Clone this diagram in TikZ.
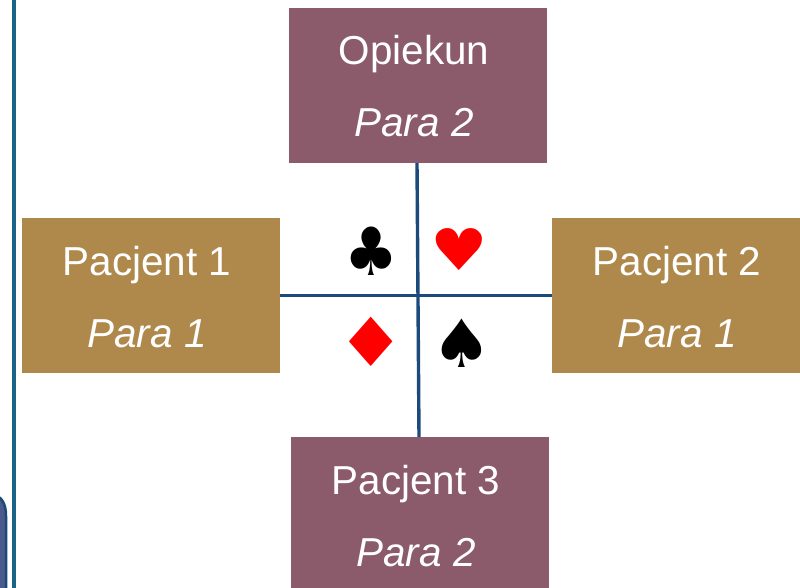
\documentclass[tikz,border=0pt]{standalone}
\usepackage{fontspec}
\setmainfont{Liberation Sans}
\newfontfamily\symfont{DejaVu Sans}
\definecolor{mauve}{HTML}{8B5A6B}
\definecolor{gold}{HTML}{AF894C}
\definecolor{linkblue}{HTML}{1D4A7C}
\definecolor{railblue}{HTML}{1B6488}
\definecolor{tabfill}{HTML}{4A5A8C}
\definecolor{tabedge}{HTML}{1C4A78}
\tikzset{
  card/.style={rectangle,inner sep=0pt,outer sep=0pt,text=white,align=center,anchor=north west,minimum height=155pt,minimum width=258pt,font=\fontsize{40.4}{72}\selectfont},
  link/.style={draw=linkblue,line width=3.4pt},
  suit/.style={inner sep=0pt,transform shape,font=\symfont\fontsize{60}{60}\selectfont},
}
\newcommand{\cardtext}[2]{\hspace*{-8pt}\raisebox{-5.5pt}[30pt][10pt]{#1}\\\hspace*{-8pt}\raisebox{-5.5pt}[30pt][10pt]{\textit{#2}}}
\begin{document}
\begin{tikzpicture}[x=1pt,y=-1pt]
\useasboundingbox (0,0) rectangle (800,588);
\fill[white] (0,0) rectangle (800,588);
\draw[railblue,line width=3.6pt] (14,0) -- (14,588);
\draw[tabedge,fill=tabfill,line width=2.5pt] (-20,588) -- (-20,494) -- (-8,494) .. controls (2,496) and (6,504) .. (6,516) -- (6,588);
\node[card,fill=mauve] (opiekun) at (289,8) {\cardtext{Opiekun}{Para 2}};
\node[card,fill=gold] (p1) at (22,218) {\cardtext{Pacjent 1}{Para 1}};
\node[card,fill=gold] (p2) at (552,218) {\cardtext{Pacjent 2}{Para 1}};
\node[card,fill=mauve] (p3) at (291,437) {\cardtext{Pacjent 3}{Para 2}};
\draw[link] (opiekun.south -| 417,0) -- (p3.north -| 419,0);
\draw[link] (p1.east) -- (p2.west -| 552,0);
\node[suit,text=black,xscale=1,yscale=1.11] (club) at (371,251) {♣};
\node[suit,text=red,xscale=1.07,yscale=.96] (heart) at (459,250) {♥};
\node[suit,text=red,xscale=1.29,yscale=1.13] (diamond) at (371,342) {♦};
\node[suit,text=black,xscale=1.13,yscale=1.11] (spade) at (462,343) {♠};
\end{tikzpicture}
\end{document}
